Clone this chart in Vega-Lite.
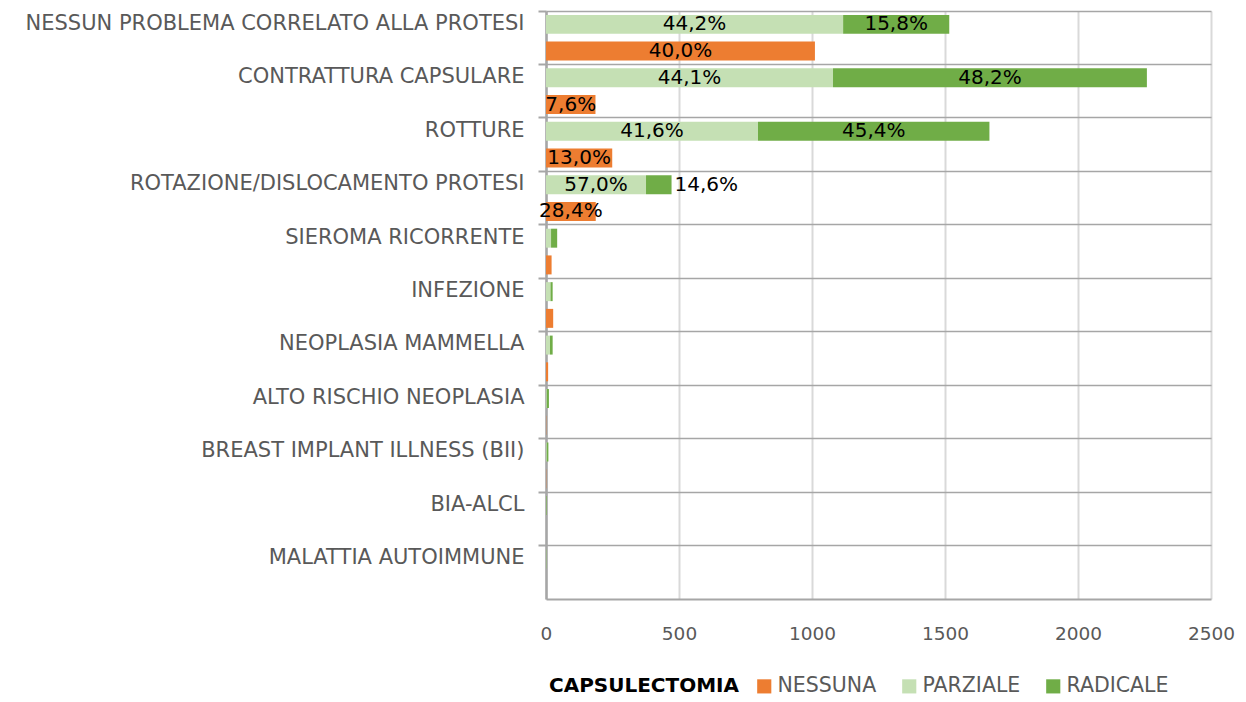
{
  "$schema": "https://vega.github.io/schema/vega-lite/v6.json",
  "width": 665,
  "height": 588,
  "padding": {"left": 25, "top": 10, "right": 5, "bottom": 5},
  "background": "white",
  "config": {
    "font": "DejaVu Sans",
    "view": {"stroke": null}
  },
  "data": {
    "values": [
      {"cat": "NESSUN PROBLEMA CORRELATO ALLA PROTESI", "series": "NESSUNA", "value": 1011, "label": "40,0%"},
      {"cat": "NESSUN PROBLEMA CORRELATO ALLA PROTESI", "series": "PARZIALE", "value": 1117, "label": "44,2%"},
      {"cat": "NESSUN PROBLEMA CORRELATO ALLA PROTESI", "series": "RADICALE", "value": 399, "label": "15,8%"},
      {"cat": "CONTRATTURA CAPSULARE", "series": "NESSUNA", "value": 186, "label": "7,6%"},
      {"cat": "CONTRATTURA CAPSULARE", "series": "PARZIALE", "value": 1079, "label": "44,1%"},
      {"cat": "CONTRATTURA CAPSULARE", "series": "RADICALE", "value": 1180, "label": "48,2%"},
      {"cat": "ROTTURE", "series": "NESSUNA", "value": 249, "label": "13,0%"},
      {"cat": "ROTTURE", "series": "PARZIALE", "value": 797, "label": "41,6%"},
      {"cat": "ROTTURE", "series": "RADICALE", "value": 870, "label": "45,4%"},
      {"cat": "ROTAZIONE/DISLOCAMENTO PROTESI", "series": "NESSUNA", "value": 187, "label": "28,4%"},
      {"cat": "ROTAZIONE/DISLOCAMENTO PROTESI", "series": "PARZIALE", "value": 376, "label": "57,0%"},
      {"cat": "ROTAZIONE/DISLOCAMENTO PROTESI", "series": "RADICALE", "value": 96, "label": "14,6%"},
      {"cat": "SIEROMA RICORRENTE", "series": "NESSUNA", "value": 21, "label": ""},
      {"cat": "SIEROMA RICORRENTE", "series": "PARZIALE", "value": 19, "label": ""},
      {"cat": "SIEROMA RICORRENTE", "series": "RADICALE", "value": 23, "label": ""},
      {"cat": "INFEZIONE", "series": "NESSUNA", "value": 27, "label": ""},
      {"cat": "INFEZIONE", "series": "PARZIALE", "value": 17, "label": ""},
      {"cat": "INFEZIONE", "series": "RADICALE", "value": 8, "label": ""},
      {"cat": "NEOPLASIA MAMMELLA", "series": "NESSUNA", "value": 8, "label": ""},
      {"cat": "NEOPLASIA MAMMELLA", "series": "PARZIALE", "value": 15, "label": ""},
      {"cat": "NEOPLASIA MAMMELLA", "series": "RADICALE", "value": 10, "label": ""},
      {"cat": "ALTO RISCHIO NEOPLASIA", "series": "NESSUNA", "value": 1, "label": ""},
      {"cat": "ALTO RISCHIO NEOPLASIA", "series": "PARZIALE", "value": 3, "label": ""},
      {"cat": "ALTO RISCHIO NEOPLASIA", "series": "RADICALE", "value": 8, "label": ""},
      {"cat": "BREAST IMPLANT ILLNESS (BII)", "series": "NESSUNA", "value": 1, "label": ""},
      {"cat": "BREAST IMPLANT ILLNESS (BII)", "series": "PARZIALE", "value": 3, "label": ""},
      {"cat": "BREAST IMPLANT ILLNESS (BII)", "series": "RADICALE", "value": 6, "label": ""},
      {"cat": "BIA-ALCL", "series": "NESSUNA", "value": 0, "label": ""},
      {"cat": "BIA-ALCL", "series": "PARZIALE", "value": 1, "label": ""},
      {"cat": "BIA-ALCL", "series": "RADICALE", "value": 2, "label": ""},
      {"cat": "MALATTIA AUTOIMMUNE", "series": "NESSUNA", "value": 0, "label": ""},
      {"cat": "MALATTIA AUTOIMMUNE", "series": "PARZIALE", "value": 1, "label": ""},
      {"cat": "MALATTIA AUTOIMMUNE", "series": "RADICALE", "value": 1, "label": ""}
    ]
  },
  "transform": [
    {"calculate": "datum.series === 'NESSUNA' ? 'B' : 'A'", "as": "row"},
    {"stack": "value", "groupby": ["cat", "row"], "sort": [{"field": "series", "order": "ascending"}], "as": ["x0", "x1"]},
    {"calculate": "(datum.x0 + datum.x1) / 2", "as": "mid"}
  ],
  "encoding": {
    "y": {
      "field": "cat",
      "type": "nominal",
      "sort": null,
      "scale": {"paddingInner": 0, "paddingOuter": 0},
      "axis": {
        "title": null,
        "bandPosition": 0,
        "grid": true,
        "gridColor": "#a6a6a6",
        "gridWidth": 1.5,
        "domainColor": "#a6a6a6",
        "domainWidth": 2.5,
        "tickColor": "#a6a6a6",
        "tickWidth": 2,
        "tickSize": 8,
        "labelFontSize": 21,
        "labelColor": "#595959",
        "labelPadding": 14,
        "labelLimit": 700,
        "labelOffset": -14
      }
    },
    "yOffset": {
      "field": "row",
      "type": "nominal",
      "scale": {"domain": ["A", "B"], "paddingInner": 0.29, "paddingOuter": 0.145}
    }
  },
  "layer": [
    {
      "mark": {"type": "bar"},
      "encoding": {
        "x": {
          "field": "x0",
          "type": "quantitative",
          "scale": {"domain": [0, 2500], "nice": false},
          "axis": {
            "title": null,
            "values": [0, 500, 1000, 1500, 2000, 2500],
            "format": "d",
            "grid": true,
            "gridColor": "#d9d9d9",
            "gridWidth": 2,
            "domainColor": "#a6a6a6",
            "domainWidth": 2,
            "ticks": false,
            "labelFlush": false,
            "labelFontSize": 18.5,
            "labelColor": "#595959",
            "labelPadding": 25
          }
        },
        "x2": {"field": "x1"},
        "color": {
          "field": "series",
          "type": "nominal",
          "scale": {"domain": ["NESSUNA", "PARZIALE", "RADICALE"], "range": ["#ED7D31", "#C5E0B4", "#70AD47"]},
          "legend": {
            "title": "CAPSULECTOMIA",
            "orient": "none",
            "direction": "horizontal",
            "titleOrient": "left",
            "legendX": 3,
            "legendY": 665,
            "titleFontSize": 20,
            "titleFontWeight": "bold",
            "titleColor": "#000000",
            "titlePadding": 14,
            "titleLimit": 500,
            "labelFontSize": 20.5,
            "labelColor": "#595959",
            "labelLimit": 300,
            "symbolType": "square",
            "symbolSize": 200,
            "symbolStrokeWidth": 0,
            "columnPadding": 22,
            "labelOffset": 3
          }
        }
      }
    },
    {
      "transform": [{"filter": "datum.label !== '' && !(datum.series === 'RADICALE' && datum.value < 150)"}],
      "mark": {"type": "text", "fontSize": 20, "color": "#000000", "align": "center", "baseline": "middle"},
      "encoding": {
        "x": {"field": "mid", "type": "quantitative"},
        "text": {"field": "label"}
      }
    },
    {
      "transform": [{"filter": "datum.label !== '' && datum.series === 'RADICALE' && datum.value < 150"}],
      "mark": {"type": "text", "fontSize": 20, "color": "#000000", "align": "left", "baseline": "middle", "dx": 3},
      "encoding": {
        "x": {"field": "x1", "type": "quantitative"},
        "text": {"field": "label"}
      }
    }
  ]
}
